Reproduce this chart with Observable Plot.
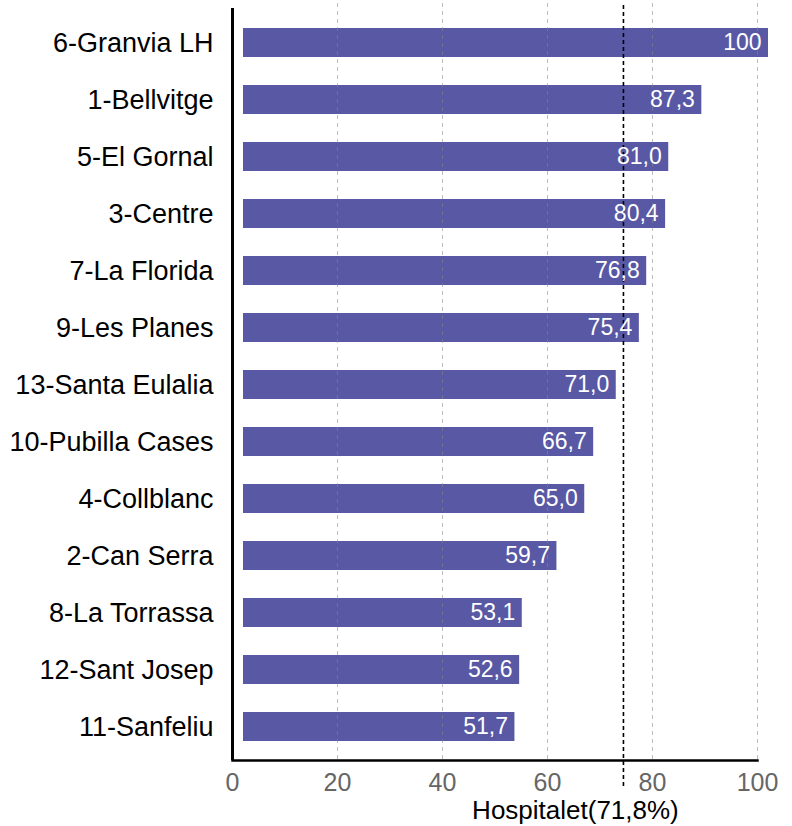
<!DOCTYPE html>
<html>
<head>
<meta charset="utf-8">
<script src="https://cdn.jsdelivr.net/npm/d3@7"></script>
<script src="https://cdn.jsdelivr.net/npm/@observablehq/plot@0.6"></script>
<style>
  html, body { margin: 0; padding: 0; background: #fff; }
  #chart svg { font-family: "Liberation Sans", Arial, Helvetica, sans-serif; }
</style>
</head>
<body>
<div id="chart"></div>
<script>
const barris = ["6-Granvia LH","1-Bellvitge","5-El Gornal","3-Centre","7-La Florida","9-Les Planes","13-Santa Eulalia","10-Pubilla Cases","4-Collblanc","2-Can Serra","8-La Torrassa","12-Sant Josep","11-Sanfeliu"];
const valors = [100, 87.3, 81.0, 80.4, 76.8, 75.4, 71.0, 66.7, 65.0, 59.7, 53.1, 52.6, 51.7];
const xTicks = [0, 20, 40, 60, 80, 100];
const hospitalet = 71.8;
const titol = "Hospitalet(71,8%)";

const data = barris.map((b, i) => ({barri: b, valor: valors[i]}));
const fmt = v => v === 100 ? "100" : v.toFixed(1).replace(".", ",");

const chart = Plot.plot({
  width: 792,
  height: 826,
  marginTop: 9,
  marginBottom: 66,
  marginLeft: 232,
  marginRight: 35,
  style: {fontSize: "26px", fontFamily: '"Liberation Sans", Arial, Helvetica, sans-serif'},
  x: {domain: [0, 100], axis: null},
  y: {domain: barris, axis: null, paddingInner: 0.5, paddingOuter: 0.25},
  marks: [
    Plot.barX(data, {x: "valor", y: "barri", fill: "#5858a5", dx: 11}),
    Plot.gridX(xTicks.filter(d => d > 0), {stroke: "#888", strokeOpacity: 0.55, strokeDasharray: "4,4", strokeWidth: 1, insetTop: -6}),
    Plot.ruleX([hospitalet], {stroke: "#000", strokeWidth: 1.6, strokeDasharray: "4,3", dx: 14, insetTop: -4, insetBottom: -27}),
    Plot.text(data, {x: "valor", y: "barri", text: d => fmt(d.valor), fill: "white", textAnchor: "end", dx: 4, fontSize: 23}),
    Plot.ruleX([0], {stroke: "#000", strokeWidth: 3, insetTop: -1}),
    Plot.frame({anchor: "bottom", stroke: "#000", strokeWidth: 2.5}),
    Plot.axisX(xTicks, {tickSize: 0, tickPadding: 13, fill: "#666", fontSize: 25, label: null}),
    Plot.axisY({tickSize: 0, tickPadding: 19, fill: "#000", fontSize: 27, label: null}),
    Plot.text([hospitalet], {x: d => d, text: () => titol, frameAnchor: "bottom", lineAnchor: "middle", dy: 50, dx: -34, fill: "#000", fontSize: 26})
  ]
});
document.getElementById("chart").appendChild(chart);
</script>
</body>
</html>
